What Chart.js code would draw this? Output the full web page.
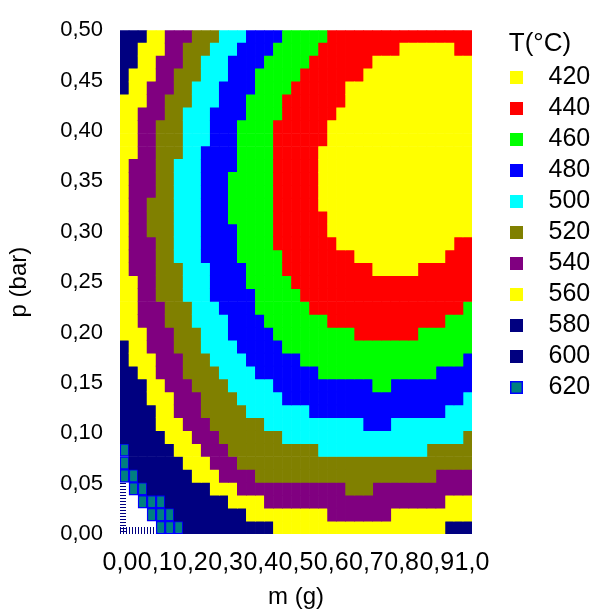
<!DOCTYPE html>
<html>
<head>
<meta charset="utf-8">
<script src="https://cdn.jsdelivr.net/npm/chart.js@4.4.1/dist/chart.umd.min.js"></script>
<style>
  html, body { margin: 0; padding: 0; background: #fff; }
  #wrap { width: 596px; height: 613px; }
</style>
</head>
<body>
<div id="wrap"><canvas id="peta"></canvas></div>
<script>
// T(°C) levels shown in the legend, and their colours
const levels = [420, 440, 460, 480, 500, 520, 540, 560, 580, 600, 620];
const levelColors = ['#ffff00', '#ff0000', '#00ff00', '#0000ff', '#00ffff', '#808000',
                     '#800080', '#ffff00', '#000080', '#000080', '#008080'];

// axis ticks
const mTicks = [0, 0.1, 0.2, 0.3, 0.4, 0.5, 0.6, 0.7, 0.8, 0.9, 1.0];
const pTicks = [0, 0.05, 0.10, 0.15, 0.20, 0.25, 0.30, 0.35, 0.40, 0.45, 0.50];
const mMax = 1.0;
const pMax = 0.5;

// 39 x 39 cells, first row is p = 0,50 (top), last row p = 0,00
// '0'..'9' -> levels[0..9], 'a' -> 620, 'w' -> above 620 (white)
const gridRows = [
  "888 77 666 555 444 3333 22222 1111111111111111",
  "88 777 66 555 444 3333 22222 111111111 000000 11",
  "88 77 666 55 444 3333 22222 1111111 00000000000",
  "8 777 66 555 444 333 22222 1111111 000000000000",
  "8 77 666 55 444 3333 2222 111111 00000000000000",
  "777 66 555 444 333 2222 1111111 00000000000000",
  "77 666 55 444 3333 2222 111111 000000000000000",
  "77 66 555 444 333 2222 111111 0000000000000000",
  "77 66 555 444 333 2222 111111 0000000000000000",
  "77 66 555 44 3333 2222 11111 00000000000000000",
  "7 666 55 444 3333 2222 11111 00000000000000000",
  "7 666 55 444 333 22222 11111 00000000000000000",
  "7 666 55 444 333 22222 11111 00000000000000000",
  "7 66 555 444 333 22222 11111 00000000000000000",
  "7 66 555 444 333 22222 111111 0000000000000000",
  "7 66 555 444 3333 2222 111111 0000000000000000",
  "7 666 55 444 3333 2222 1111111 0000000000000 11",
  "7 666 55 444 3333 22222 11111111 0000000000 111",
  "7 666 555 444 3333 2222 1111111111 00000 111111",
  "77 66 555 444 3333 22222 11111111111111111111",
  "77 66 555 444 33333 22222 1111111111111111111",
  "77 666 555 444 3333 222222 11111111111111111 2",
  "77 666 555 4444 3333 2222222 1111111111111 222",
  "777 666 555 444 33333 222222222 1111111 222222",
  "8 77 666 555 4444 33333 222222222222222222222",
  "8 777 666 555 4444 333333 222222222222222222 3",
  "98 77 666 5555 4444 3333333 2222222222222 3333",
  "988 77 666 5555 44444 33333333333 22 333333333",
  "998 777 666 5555 44444 33333333333333333333 4",
  "9988 77 666 55555 4444444 333333333333333 444",
  "9988 777 666 555555 44444444444 333 444444444",
  "99988 777 666 5555555 44444444444444444444 5",
  "a 99988 777 666 5555555555 444444444444 55555",
  "a 999888 777 666 55555555555555555555555555",
  "aa 999888 777 6666 55555555555555555555 6666",
  "w aa 9998888 777 666666666666 555 66666666666",
  "ww aaa 9998888 7777 66666666666666666666 777",
  "www aaa 99998888 777777777 6666666 777777777",
  "wwww aaa 9999988888 7777777777777777777 888"
];

const codes = '0123456789a';
const rows = gridRows.map(s => s.replace(/ /g, ''));
const nRows = rows.length;
const nCols = rows[0].length;
rows.forEach((s, i) => { if (s.length !== nCols) console.warn('row', i, s.length); });

function cellsFor(code) {
  const out = [];
  const cw = mMax / nCols;
  const ch = pMax / nRows;
  rows.forEach((s, r) => {
    for (let c = 0; c < s.length; c++) {
      if (s[c] === code) out.push({ x: [c * cw, (c + 1) * cw], y: pMax - (r + 0.5) * ch });
    }
  });
  return out;
}

// white area: white with navy dashes along the plot edges
let hatch = null;
function hatchFill(chart) {
  const a = chart.chartArea;
  if (!a) return '#ffffff';
  if (hatch) return hatch;
  const cv = document.createElement('canvas');
  cv.width = chart.width; cv.height = chart.height;
  const g = cv.getContext('2d');
  g.fillStyle = '#ffffff';
  g.fillRect(0, 0, cv.width, cv.height);
  g.strokeStyle = '#000080';
  g.lineWidth = 1;
  for (let y = Math.round(a.top); y < a.bottom; y += 3) {
    g.beginPath(); g.moveTo(a.left, y + 0.5); g.lineTo(a.left + 6, y + 0.5); g.stroke();
  }
  for (let x = Math.round(a.left); x < a.right; x += 3) {
    g.beginPath(); g.moveTo(x + 0.5, a.bottom); g.lineTo(x + 0.5, a.bottom - 7); g.stroke();
  }
  hatch = chart.ctx.createPattern(cv, 'no-repeat');
  return hatch;
}

// legend swatch: small square, offset so text sits further right
function legendIcon(i) {
  const cv = document.createElement('canvas');
  cv.width = 58; cv.height = 13;
  const g = cv.getContext('2d');
  g.fillStyle = levelColors[i];
  g.fillRect(32, 0, 13, 13);
  if (levels[i] === 620) {
    g.strokeStyle = '#0000ff'; g.lineWidth = 1.5;
    g.strokeRect(32.75, 0.75, 11.5, 11.5);
  }
  return cv;
}
const icons = levels.map((t, i) => legendIcon(i));

const datasets = levels.map((t, i) => ({
  label: String(t),
  data: cellsFor(codes[i]),
  backgroundColor: levelColors[i],
  borderColor: '#0000ff',
  borderWidth: t === 620 ? 1.5 : 0,
  borderSkipped: false,
  grouped: false,
  categoryPercentage: 1,
  barPercentage: 1
}));
datasets.push({
  label: '>620',
  data: cellsFor('w'),
  backgroundColor: ctx => hatchFill(ctx.chart),
  borderWidth: 0,
  grouped: false,
  categoryPercentage: 1,
  barPercentage: 1
});

const fam = '"Liberation Sans", Arial, sans-serif';
const comma = (v, d) => Number(v).toFixed(d).replace('.', ',');

const legendWidth = {
  id: 'legendWidth',
  beforeInit(chart) {
    const fit = chart.legend.fit;
    chart.legend.fit = function () { fit.call(this); this.width = 136; };
  }
};

new Chart(document.getElementById('peta'), {
  type: 'bar',
  data: { datasets },
  options: {
    indexAxis: 'y',
    responsive: true,
    maintainAspectRatio: false,
    animation: false,
    events: [],
    layout: { padding: { top: 17, right: -12, bottom: 0, left: 0 } },
    scales: {
      x: {
        type: 'linear', min: 0, max: mMax,
        grid: { display: false, drawTicks: false },
        border: { display: false },
        afterBuildTicks: s => { s.ticks = mTicks.map(v => ({ value: v })); },
        afterFit: s => { s.height = 79; },
        ticks: { autoSkip: false, maxRotation: 0, minRotation: 0, padding: 14, color: '#000',
                 font: { family: fam, size: 25 }, callback: v => comma(v, 1) },
        title: { display: true, text: 'm (g)', color: '#000', font: { family: fam, size: 24 },
                 padding: { top: 4, bottom: 1 } }
      },
      y: {
        type: 'linear', min: 0, max: pMax, offset: false,
        grid: { display: false, drawTicks: false, offset: false },
        border: { display: false },
        afterBuildTicks: s => { s.ticks = pTicks.map(v => ({ value: v })); },
        afterFit: s => { s.width = 120; },
        ticks: { autoSkip: false, padding: 17, color: '#000',
                 font: { family: fam, size: 22 }, callback: v => comma(v, 2) },
        title: { display: true, text: 'p (bar)', color: '#000', font: { family: fam, size: 24 },
                 padding: { top: 5, bottom: 0 } }
      }
    },
    plugins: {
      tooltip: { enabled: false },
      legend: {
        position: 'right',
        align: 'start',
        title: { display: true, text: 'T(°C)', color: '#000',
                 font: { family: fam, size: 26, lineHeight: 1 },
                 padding: { top: 14, bottom: 2 } },
        labels: {
          usePointStyle: true,
          pointStyleWidth: 58,
          padding: 6,
          color: '#000',
          font: { family: fam, size: 25 },
          filter: item => item.datasetIndex < levels.length,
          generateLabels: chart => Chart.defaults.plugins.legend.labels.generateLabels(chart)
            .map(it => ({ ...it, pointStyle: icons[it.datasetIndex] || it.pointStyle }))
        }
      }
    }
  },
  plugins: [legendWidth]
});
</script>
</body>
</html>
